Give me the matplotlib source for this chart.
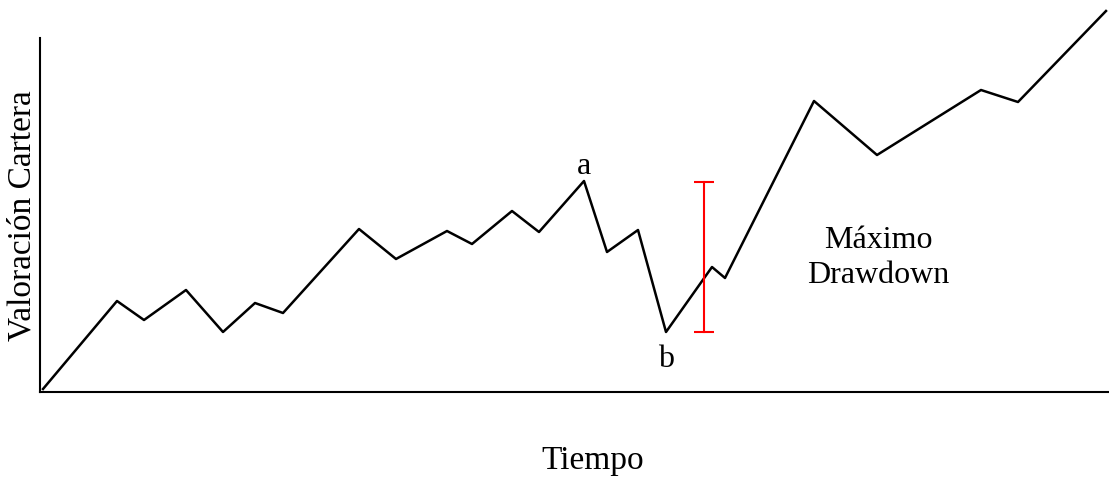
import matplotlib

matplotlib.use("Agg")
import matplotlib.pyplot as plt

# portfolio valuation over time (arbitrary units)
time = [3, 77, 104, 146, 183, 215, 243, 319, 356, 407, 432, 472,
        499, 544, 567, 598, 626, 672, 685, 774, 837, 941, 978, 1066]
value = [3, 91, 72, 102, 60, 89, 79, 163, 133, 161, 148, 181,
         160, 211, 140, 162, 60, 125, 114, 291, 237, 302, 290, 381]

# peak (a), trough (b) and the drawdown bar
peak_time, peak_value = 544, 211
trough_time, trough_value = 626, 60
drawdown_time = 664

plt.rcParams["font.family"] = ["Liberation Serif", "DejaVu Serif"]

fig = plt.figure(figsize=(11.09, 4.81), dpi=100)
ax = fig.add_axes([40 / 1109, 88 / 481, 1069 / 1109, 354 / 481])

ax.plot(time, value, color="black", linewidth=1.8, clip_on=False)

ax.plot([drawdown_time, drawdown_time], [trough_value, peak_value - 1],
        color="red", linewidth=1.5, marker="_", markersize=15,
        markeredgewidth=1.5)

ax.text(peak_time, peak_value + 1, "a", fontsize=23, ha="center", va="bottom")
ax.text(trough_time, trough_value - 12, "b", fontsize=23, ha="center", va="top")
ax.text(838, 135, "Máximo\nDrawdown", fontsize=23, ha="center", va="center",
        linespacing=1.25)

ax.set_xlim(0, 1069)
ax.set_ylim(0, 354)
ax.set_xticks([])
ax.set_yticks([])
ax.spines["top"].set_visible(False)
ax.spines["right"].set_visible(False)
ax.spines["left"].set_linewidth(1.5)
ax.spines["bottom"].set_linewidth(1.5)

ax.set_xlabel("Tiempo", fontsize=24, labelpad=38, x=0.517)
ax.set_ylabel("Valoración Cartera", fontsize=24, labelpad=2)

fig.savefig("out.png", dpi=100)
